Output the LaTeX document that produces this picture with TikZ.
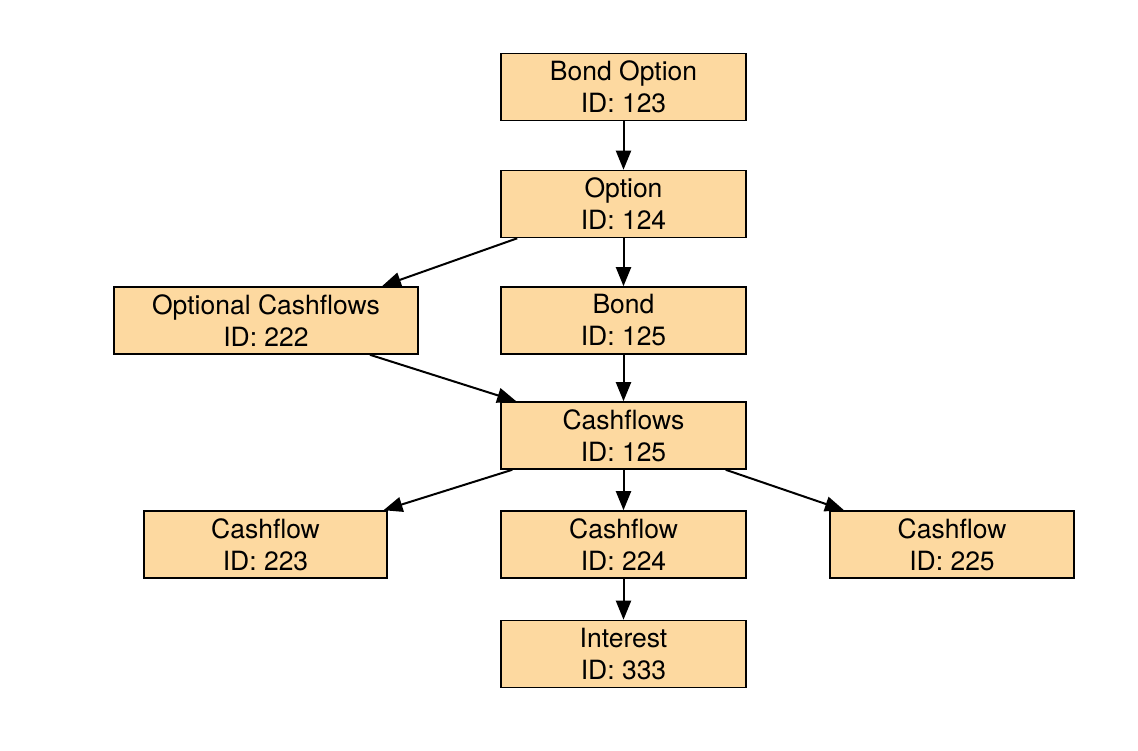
\documentclass[tikz,border=0pt]{standalone}
\usepackage{fontspec}
\setmainfont{TeX Gyre Heros}
\usetikzlibrary{arrows.meta,calc}
\definecolor{boxfill}{RGB}{253,217,160}
\begin{document}
\begin{tikzpicture}[x=1pt,y=-1pt,
  box/.style={draw=black, fill=boxfill, line width=1.6pt, inner sep=0pt,
    minimum width=245pt, minimum height=67pt, align=center,
    font=\fontsize{26.5}{32}\selectfont},
  edge/.style={draw=black, line width=2pt, -{Triangle[length=19pt,width=15pt]}}]
\useasboundingbox[fill=white] (0,0) rectangle (1138,750);
\node[box] (bo) at (623.5,87) {Bond Option\\ID: 123};
\node[box] (op) at (623.5,204) {Option\\ID: 124};
\node[box, minimum width=304pt] (oc) at (266,320.5) {Optional Cashflows\\ID: 222};
\node[box] (bd) at (623.5,320.5) {Bond\\ID: 125};
\node[box] (cf) at (623.5,435.5) {Cashflows\\ID: 125};
\node[box, minimum width=243pt] (c1) at (265.5,544.5) {Cashflow\\ID: 223};
\node[box] (c2) at (623.5,544.5) {Cashflow\\ID: 224};
\node[box, minimum width=244pt] (c3) at (952,544.5) {Cashflow\\ID: 225};
\node[box] (in) at (623.5,654) {Interest\\ID: 333};
\draw[edge] (bo) -- (op);
\draw[edge] (op) -- (bd);
\draw[edge] ($(op.south west)+(17,0)$) -- ($(oc.north)+(116,0)$);
\draw[edge] ($(oc.south)+(104,0)$) -- ($(cf.north west)+(16,0)$);
\draw[edge] (bd) -- (cf);
\draw[edge] (cf) -- (c2);
\draw[edge] ($(cf.south west)+(12,0)$) -- ($(c1.north)+(118,0)$);
\draw[edge] ($(cf.south east)+(-21,0)$) -- ($(c3.north)+(-108,0)$);
\draw[edge] (c2) -- (in);
\end{tikzpicture}
\end{document}
